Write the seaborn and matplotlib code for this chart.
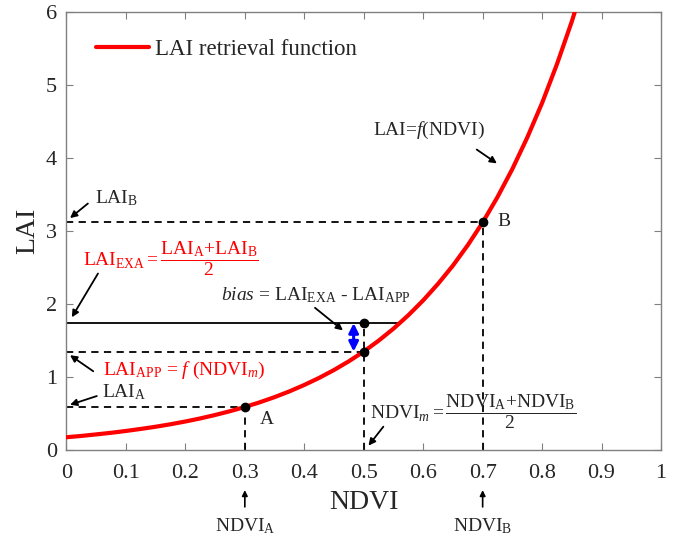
import matplotlib
matplotlib.use('Agg')
import matplotlib.pyplot as plt
import seaborn as sns
import pandas as pd

# values
ndvi = [0.0, 0.025, 0.05, 0.075, 0.1, 0.125, 0.15, 0.175, 0.2, 0.225, 0.25,
        0.275, 0.3, 0.325, 0.35, 0.375, 0.4, 0.425, 0.45, 0.475, 0.5,
        0.525, 0.55, 0.575, 0.6, 0.625, 0.65, 0.675, 0.7, 0.725, 0.75,
        0.775, 0.8, 0.825, 0.85, 0.875]
lai = [0.175, 0.193, 0.214, 0.236, 0.261, 0.289, 0.319, 0.353, 0.391, 0.433, 0.480,
       0.532, 0.590, 0.654, 0.725, 0.804, 0.892, 0.989, 1.097, 1.217, 1.350,
       1.499, 1.664, 1.848, 2.052, 2.279, 2.529, 2.809, 3.120, 3.469, 3.854,
       4.284, 4.759, 5.291, 5.877, 6.53]

ndvi_a, ndvi_m, ndvi_b = 0.3, 0.5, 0.7
lai_a, lai_app, lai_b = 0.59, 1.35, 3.13
lai_exa = 1.74
exa_line_end = 0.557
bias_x = 0.483

sns.set_style('ticks')
plt.rcParams['font.family'] = ['Liberation Serif', 'DejaVu Serif']
plt.rcParams['mathtext.fontset'] = 'custom'
plt.rcParams['mathtext.rm'] = 'Liberation Serif'
plt.rcParams['mathtext.it'] = 'Liberation Serif:italic'

fig = plt.figure(figsize=(6.91, 5.41), dpi=100)
ax = fig.add_axes([0.0962, 0.1682, 0.8604, 0.8088])

df = pd.DataFrame({'NDVI': ndvi, 'LAI': lai})
sns.lineplot(data=df, x='NDVI', y='LAI', color='red', linewidth=3,
             label='LAI retrieval function', ax=ax, zorder=4)

dash = dict(color='k', linestyle='--', linewidth=1.3, dashes=(4, 3))
ax.plot([0, ndvi_a], [lai_a, lai_a], **dash)
ax.plot([ndvi_a, ndvi_a], [0, lai_a], **dash)
ax.plot([0, ndvi_b], [lai_b, lai_b], **dash)
ax.plot([ndvi_b, ndvi_b], [0, lai_b], **dash)
ax.plot([0, ndvi_m], [lai_app, lai_app], **dash)
ax.plot([ndvi_m, ndvi_m], [0, lai_exa], **dash)
ax.plot([0, exa_line_end], [lai_exa, lai_exa], color='k', linewidth=1.3)

ax.scatter([ndvi_a, ndvi_m, ndvi_b, ndvi_m], [lai_a, lai_app, lai_b, lai_exa],
           color='k', s=36, zorder=5)

ax.annotate('', xy=(bias_x, lai_app), xytext=(bias_x, lai_exa),
            arrowprops=dict(arrowstyle='<|-|>', color='blue', lw=2.2,
                            mutation_scale=14, shrinkA=0, shrinkB=0))

ax.set_xlim(0, 1)
ax.set_ylim(0, 6)
ax.set_xticks([0, 0.1, 0.2, 0.3, 0.4, 0.5, 0.6, 0.7, 0.8, 0.9, 1])
ax.set_xticklabels(['0', '0.1', '0.2', '0.3', '0.4', '0.5', '0.6', '0.7', '0.8', '0.9', '1'])
ax.set_yticks([0, 1, 2, 3, 4, 5, 6])
ax.tick_params(direction='in', top=True, right=True, length=5, width=0.8,
               color='#808080', labelsize=16)
ax.tick_params(axis='x', pad=10)
ax.tick_params(axis='y', pad=7)
for s in ax.spines.values():
    s.set_color('#808080')
    s.set_linewidth(1)
ax.set_xlabel('NDVI', fontsize=20, labelpad=5)
ax.set_ylabel('LAI', fontsize=20, labelpad=4)

leg = ax.legend(loc='upper left', frameon=False, fontsize=16.5,
                handlelength=2.3, handletextpad=0.25, borderpad=0,
                borderaxespad=0, bbox_to_anchor=(0.05, 0.94))

arr = dict(arrowstyle='-|>', color='k', lw=1.3, mutation_scale=10,
           shrinkA=0, shrinkB=0)
fs = 14

ax.text(0.703, 4.38, r'LAI=$f$(NDVI)', fontsize=fs, ha='right', va='center')
ax.annotate('', xy=(0.724, 3.93), xytext=(0.690, 4.12), arrowprops=arr)

ax.annotate('', xy=(0.006, 3.18), xytext=(0.036, 3.38), arrowprops=arr)
ax.text(0.048, 3.45, r'LAI$_{\mathrm{B}}$', fontsize=fs, ha='left', va='center')

ax.text(0.028, 2.63,
        r'LAI$_{\mathrm{EXA}}=\dfrac{\mathrm{LAI}_{\mathrm{A}}{+}\mathrm{LAI}_{\mathrm{B}}}{2}$',
        fontsize=fs, color='red', ha='left', va='center')
ax.annotate('', xy=(0.009, lai_exa + 0.08), xytext=(0.053, 2.42), arrowprops=arr)

ax.text(0.26, 2.13, r'$bias$ = LAI$_{\mathrm{EXA}}$ - LAI$_{\mathrm{APP}}$',
        fontsize=fs, ha='left', va='center')
ax.annotate('', xy=(0.465, 1.64), xytext=(0.418, 1.95), arrowprops=arr)

ax.text(0.062, 1.09, r'LAI$_{\mathrm{APP}}$ = $f$ (NDVI$_{m}$)',
        fontsize=fs, color='red', ha='left', va='center')
ax.annotate('', xy=(0.006, 1.30), xytext=(0.045, 1.08), arrowprops=arr)

ax.annotate('', xy=(0.006, 0.62), xytext=(0.051, 0.74), arrowprops=arr)
ax.text(0.06, 0.79, r'LAI$_{\mathrm{A}}$', fontsize=fs, ha='left', va='center')

ax.text(0.325, 0.42, 'A', fontsize=fs, ha='left', va='center')
ax.text(0.725, 3.13, 'B', fontsize=fs, ha='left', va='center')

ax.text(0.51, 0.52,
        r'NDVI$_{m}=\dfrac{\mathrm{NDVI}_{\mathrm{A}}{+}\mathrm{NDVI}_{\mathrm{B}}}{2}$',
        fontsize=fs, ha='left', va='center')
ax.annotate('', xy=(0.508, 0.06), xytext=(0.533, 0.32), arrowprops=arr)

for xv, lab in [(ndvi_a, r'NDVI$_{\mathrm{A}}$'), (ndvi_b, r'NDVI$_{\mathrm{B}}$')]:
    ax.annotate('', xy=(xv, -0.55), xytext=(xv, -0.78), xycoords='data',
                arrowprops=dict(arrowstyle='-|>', color='k', lw=1.2,
                                mutation_scale=8, shrinkA=0, shrinkB=0),
                annotation_clip=False)
    ax.text(xv, -1.04, lab, fontsize=fs, ha='center', va='center', clip_on=False)

fig.savefig('out.png', dpi=100)
